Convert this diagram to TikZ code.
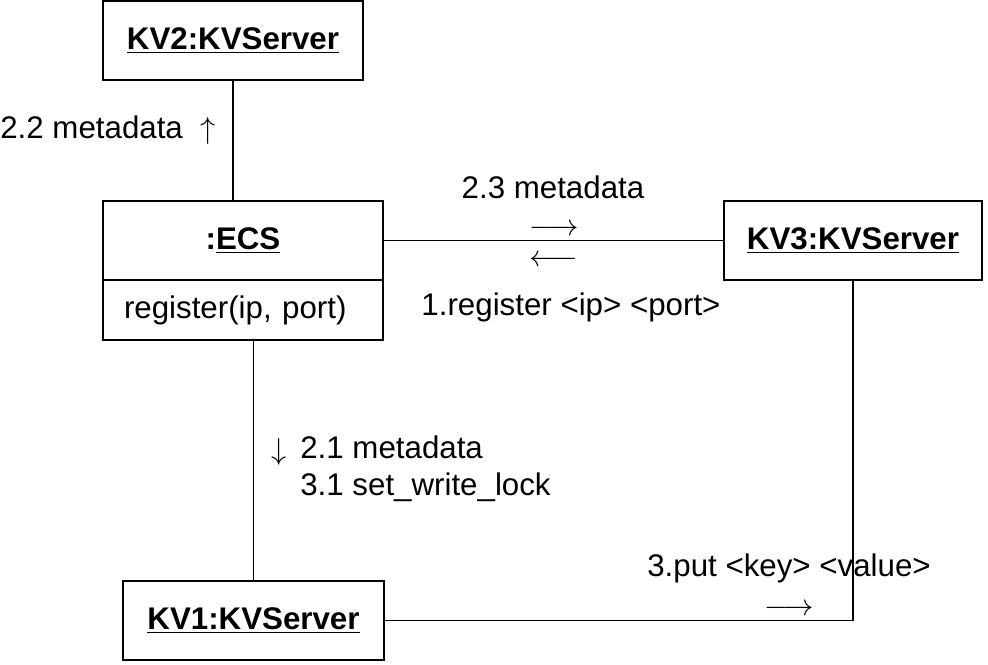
\documentclass[tikz,border=0pt]{standalone}
\usepackage{fontspec}
\setmainfont{Liberation Sans}
\usetikzlibrary{positioning}
\newcommand{\dgmfont}{\fontsize{17.8}{21}\selectfont}
\tikzset{
  obj/.style={draw, rectangle, line width=1.1pt, outer sep=0pt, minimum height=1.58cm, inner sep=0pt, font=\dgmfont\bfseries},
  ops/.style={draw, rectangle, line width=1.1pt, outer sep=0pt, minimum height=1.2cm, inner xsep=0.42cm, inner ysep=0pt, align=left, font=\dgmfont},
  lbl/.style={inner sep=0pt, font=\dgmfont},
  wire/.style={line width=1.1pt}
}
\begin{document}
\begin{tikzpicture}[x=0.02cm, y=-0.02cm]
\useasboundingbox (0,0) rectangle (988,664);
% Define the objects
\node[obj, minimum width=5.2cm] (kv2) at (233,40.5) {\underline{KV2:KVServer}};
\node[obj, minimum width=5.6cm] (ecs) at (243,240.5) {:\underline{ECS}};
\node[ops, text width=4.76cm, minimum width=5.6cm, below=0pt of ecs] (ecsop) {register(ip, port)};
\node[obj, minimum width=5.16cm] (kv3) at (853,240.5) {\underline{KV3:KVServer}};
\node[obj, minimum width=5.22cm] (kv1) at (253.5,620.5) {\underline{KV1:KVServer}};
% Add links between the objects
\draw[wire] (kv2.south) -- (kv2.south |- ecs.north);
\draw[wire] (ecs.east) -- (kv3.west);
\draw[wire] (kv1.north |- ecsop.south) -- (kv1.north);
\draw[wire] (kv3.south) |- (kv1.east);
% Add the messages
\node[lbl, anchor=west] (m22) at (0,130) {2.2 metadata \ $\uparrow$};
\node[lbl] (m23) at (553,187) {2.3 metadata};
\node[lbl] (m23dir) at (554,230) {$\longrightarrow$};
\node[lbl] (m1dir) at (554,261) {$\longleftarrow$};
\node[lbl] (m1) at (571,307) {1.register <ip> <port>};
\node[lbl] (m21dir) at (279,452) {$\downarrow$};
\node[lbl, anchor=west, align=left] (m21) at (300,468.5) {2.1 metadata\\3.1 set\_write\_lock};
\node[lbl] (m3) at (789,568) {3.put <key> <value>};
\node[lbl] (m3dir) at (789,610) {$\longrightarrow$};
\end{tikzpicture}
\end{document}
